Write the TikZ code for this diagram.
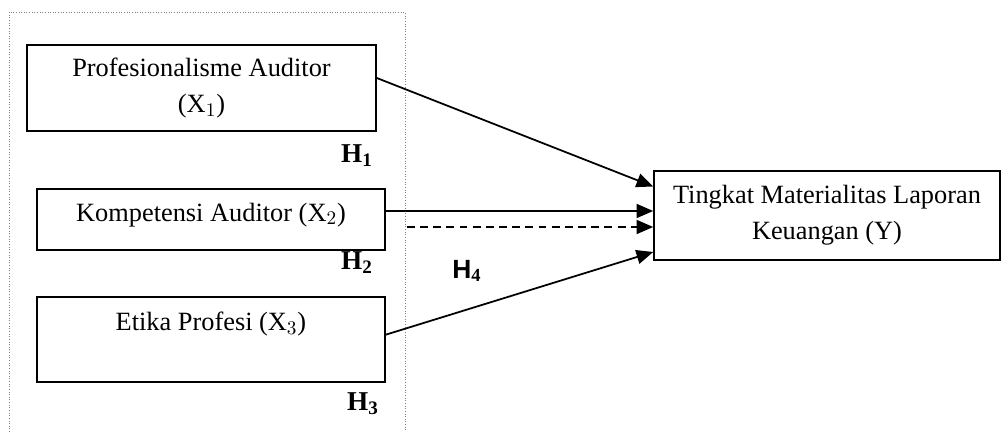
\documentclass[tikz,border=0pt]{standalone}
\usepackage{fontspec}
\setmainfont{Liberation Serif}
\newfontfamily\arialfont{Liberation Sans}
\usetikzlibrary{arrows.meta,calc}
\begin{document}
\begin{tikzpicture}[x=0.02cm,y=0.02cm,
     var/.style={draw,line width=0.9pt,rectangle,inner sep=0pt,align=center,
       font=\fontsize{15}{20.5}\selectfont},
     hyp/.style={font=\fontsize{15.5}{17}\selectfont\bfseries},
     link/.style={line width=1pt,-{Triangle[length=9.5pt,width=8pt]}}
     ]
%One pixel of the drawing
\def \u{0.02cm}

%Fix the page to the picture size
\useasboundingbox (0,0) rectangle (1001,432);

%Dotted frame round the independent variables
\def \fxmin{9}
\def \fxmax{405}
\def \fymax{420}
\draw[gray,densely dotted,line width=0.5pt] (\fxmin,0) -- (\fxmin,\fymax) -- (\fxmax,\fymax) -- (\fxmax,0);

%Variables
\node (X1)[var,minimum width=349*\u,minimum height=86*\u] at (201.5,344) {Profesionalisme Auditor\\(X$_1$)};
\node (X2)[var,minimum width=348*\u,minimum height=61*\u] at (211,212.5) {Kompetensi Auditor (X$_2$)\\[-12pt]~};
\node (X3)[var,minimum width=348*\u,minimum height=85*\u] at (211,92.5) {Etika Profesi (X$_3$)\\~};
\node (Y)[var,minimum width=346*\u,minimum height=89*\u] at (827,216.5) {Tingkat Materialitas Laporan\\Keuangan (Y)};

%Hypotheses
\node (H1)[hyp] at (357,276) {H$_\mathbf{1}$};
\node (H2)[hyp] at (357,169) {H$_\mathbf{2}$};
\node (H3)[hyp] at (363,28) {H$_\mathbf{3}$};
\node (H4)[font=\fontsize{15}{17}\selectfont\arialfont\bfseries] at (467,161) {H$_\mathbf{4}$};

%Arrows
\draw[link] ($(X1.east)+(0,10)$) -- ($(Y.west)+(0,29)$);
\draw[link] ($(X2.east)+(0,8.5)$) -- ($(Y.west)+(0,4.5)$);
\draw[link,dash pattern=on 4.5pt off 3pt] ($(X2.east)+(21,-7.5)$) -- ($(Y.west)+(0,-11.5)$);
\draw[link] ($(X3.east)+(-1,4.5)$) -- ($(Y.west)+(0,-36.5)$);
\end{tikzpicture}
\end{document}
